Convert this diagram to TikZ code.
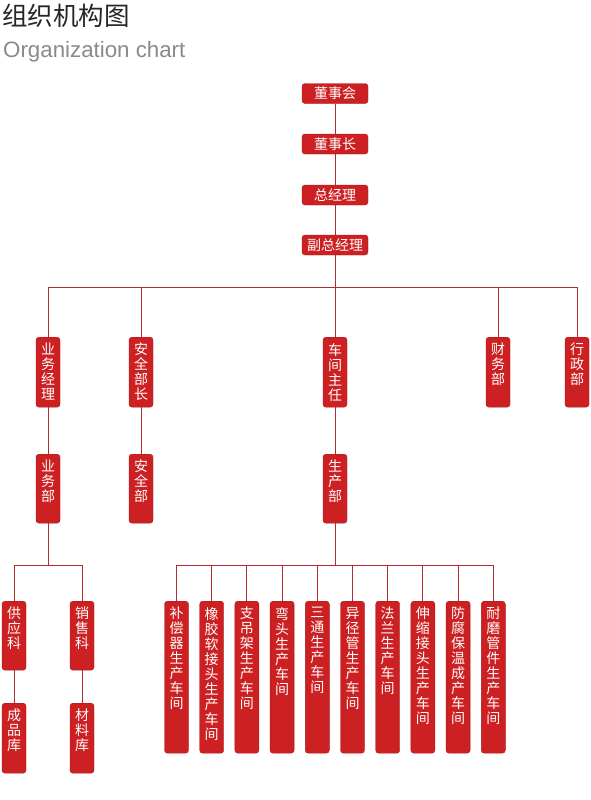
\documentclass[tikz,border=0pt]{standalone}
\usepackage{fontspec}
\usepackage{tikz}
\newfontfamily\cjk{Noto Sans CJK SC}
\newfontfamily\latinsans{Liberation Sans}
\definecolor{boxred}{RGB}{204,32,34}
\definecolor{boxedge}{RGB}{172,22,24}
\definecolor{linkred}{RGB}{182,44,44}
\definecolor{titlegray}{RGB}{138,138,138}
\newcommand{\vstack}[2]{\parbox[t][#1][t]{20pt}{\centering #2}}

\begin{document}
\begin{tikzpicture}[x=1pt, y=-1pt,
    headbox/.style={rectangle, draw=boxedge, fill=boxred, rounded corners=3pt, minimum width=66pt, minimum height=20pt, inner sep=0pt, text=white, font=\cjk\fontsize{14}{14}\selectfont},
    colbox/.style={rectangle, draw=boxedge, fill=boxred, rounded corners=3pt, minimum width=24pt, inner xsep=0pt, inner ysep=6pt, anchor=north, text=white, font=\cjk\fontsize{14}{15}\selectfont},
    link/.style={draw=linkred, line width=0.9pt}
  ]
    \useasboundingbox (0,0) rectangle (590,800);

    % Title
    \node[anchor=west, inner sep=0pt, font=\cjk\fontsize{25.5}{26}\selectfont, text=black!85] (title) at (2,15.5) {组织机构图};
    \node[anchor=base west, inner sep=0pt, font=\latinsans\fontsize{22.3}{24}\selectfont, text=titlegray] (subtitle) at (3,58) {Organization chart};

    % Top chain
    \node[headbox] (dsh) at (335,93.5) {董事会};
    \node[headbox] (dsz) at (335,144) {董事长};
    \node[headbox] (zjl) at (335,195) {总经理};
    \node[headbox] (fzjl) at (335,245) {副总经理};

    % Second level
    \node[colbox] (ywjl) at (48,337) {\vstack{58pt}{业\\务\\经\\理}};
    \node[colbox] (aqbz) at (141,337) {\vstack{58pt}{安\\全\\部\\长}};
    \node[colbox] (cjzr) at (335,337) {\vstack{58pt}{车\\间\\主\\任}};
    \node[colbox] (cwb) at (498,337) {\vstack{58pt}{财\\务\\部}};
    \node[colbox] (xzb) at (577,337) {\vstack{58pt}{行\\政\\部}};

    % Departments
    \node[colbox] (ywb) at (48,454) {\vstack{57pt}{业\\务\\部}};
    \node[colbox] (aqb) at (141,454) {\vstack{57pt}{安\\全\\部}};
    \node[colbox] (scb) at (335,454) {\vstack{57pt}{生\\产\\部}};

    % Business sections
    \node[colbox] (gyk) at (14,601) {\vstack{57pt}{供\\应\\科}};
    \node[colbox] (xsk) at (82,601) {\vstack{57pt}{销\\售\\科}};
    \node[colbox] (cpk) at (14,703) {\vstack{58pt}{成\\品\\库}};
    \node[colbox] (clk) at (82,703) {\vstack{58pt}{材\\料\\库}};

    % Workshops
    \foreach \shop [count=\i from 0] in {
        {补\\偿\\器\\生\\产\\车\\间},
        {橡\\胶\\软\\接\\头\\生\\产\\车\\间},
        {支\\吊\\架\\生\\产\\车\\间},
        {弯\\头\\生\\产\\车\\间},
        {三\\通\\生\\产\\车\\间},
        {异\\径\\管\\生\\产\\车\\间},
        {法\\兰\\生\\产\\车\\间},
        {伸\\缩\\接\\头\\生\\产\\车\\间},
        {防\\腐\\保\\温\\成\\产\\车\\间},
        {耐\\磨\\管\\件\\生\\产\\车\\间}}
      \node[colbox] (ws\i) at ({176.5+35.2*\i},601) {\vstack{140pt}{\shop}};

    % Connections
    \draw[link] (dsh.south) -- (dsz.north);
    \draw[link] (dsz.south) -- (zjl.north);
    \draw[link] (zjl.south) -- (fzjl.north);

    \coordinate (bus1) at (335,287);
    \draw[link] (fzjl.south) -- (bus1);
    \foreach \n in {ywjl,aqbz,cjzr,cwb,xzb}
      \draw[link] (bus1) -| (\n.north);

    \draw[link] (ywjl.south) -- (ywb.north);
    \draw[link] (aqbz.south) -- (aqb.north);
    \draw[link] (cjzr.south) -- (scb.north);

    \coordinate (bus2) at (48,565);
    \draw[link] (ywb.south) -- (bus2);
    \draw[link] (bus2) -| (gyk.north);
    \draw[link] (bus2) -| (xsk.north);
    \draw[link] (gyk.south) -- (cpk.north);
    \draw[link] (xsk.south) -- (clk.north);

    \coordinate (bus3) at (335,565);
    \draw[link] (scb.south) -- (bus3);
    \foreach \i in {0,...,9}
      \draw[link] (bus3) -| (ws\i.north);
  \end{tikzpicture}
\end{document}
